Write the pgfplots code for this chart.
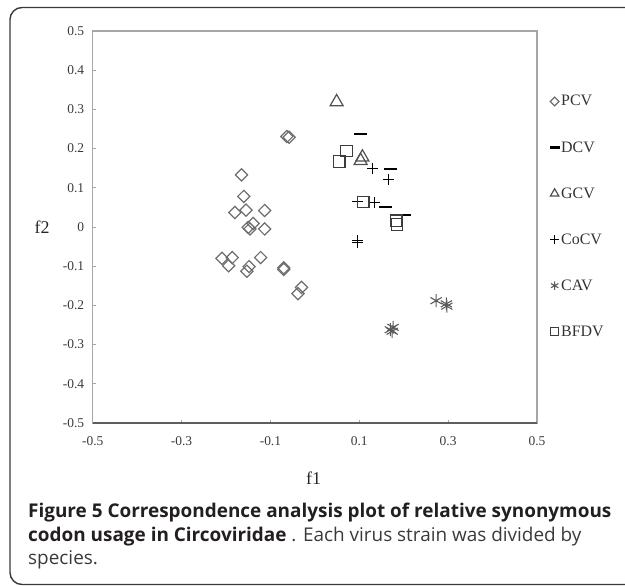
\documentclass[border=0pt]{standalone}
\usepackage{pgfplots}
\pgfplotsset{compat=1.18}
\usepackage{fontspec}
\setmainfont{Liberation Serif}
\newfontfamily\capfont{Open Sans}
\definecolor{framec}{HTML}{3A3A3A}
\definecolor{axisc}{HTML}{A6A6A6}
\definecolor{axisb}{HTML}{5E5E5E}
\definecolor{tickc}{HTML}{3A3A3A}
\definecolor{pcvc}{HTML}{6E6E6E}
\definecolor{sqc}{HTML}{3C3C3C}
\definecolor{trc}{HTML}{505050}
\definecolor{cavc}{HTML}{5A5A5A}
\definecolor{capb}{HTML}{231F20}
\definecolor{capr}{HTML}{3A3A3A}
\pgfplotsset{limg/.style={legend image code/.code={\draw[##1, mark size=#1] plot coordinates {(0bp,0bp)};}}}
\begin{document}
\begin{tikzpicture}
\useasboundingbox (0bp,0bp) rectangle (625bp,-587bp);
\begin{scope}
\clip (0bp,0bp) rectangle (625bp,-587bp);
\draw[framec, line width=1.4bp, rounded corners=12bp] (10bp,-7.5bp) rectangle (660bp,-584.5bp);
\end{scope}
\begin{axis}[
  at={(92.7bp,-423bp)}, anchor=south west,
  scale only axis, width=444.3bp, height=392bp,
  xmin=-0.5, xmax=0.5, ymin=-0.5, ymax=0.5,
  xtick={-0.5,-0.3,-0.1,0.1,0.3,0.5},
  xticklabels={-0.5,-0.3,-0.1,0.1,0.3,0.5},
  ytick={-0.5,-0.4,-0.3,-0.2,-0.1,0,0.1,0.2,0.3,0.4,0.5},
  yticklabels={-0.5,-0.4,-0.3,-0.2,-0.1,0,0.1,0.2,0.3,0.4,0.5},
  xtick pos=bottom, ytick pos=left,
  tick align=inside, major tick length=3bp,
  tick style={axisc, line width=0.8bp},
  axis line style={axisc, line width=1.2bp},
  ticklabel style={font=\fontsize{13.5}{15}\selectfont, text=tickc},
  yticklabel style={xshift=-5bp},
  xticklabel style={yshift=-10bp},
  xlabel={f1}, ylabel={f2},
  label style={font=\fontsize{18}{20}\selectfont, text=black!85},
  xlabel style={at={(axis description cs:0.497,-0.14)}, anchor=center},
  ylabel style={at={(axis description cs:-0.114,0.5)}, anchor=center, rotate=-90},
  legend style={at={(1.028,0.84)}, anchor=north west, draw=none, fill=none,
    row sep=31bp, font=\fontsize{16}{18}\selectfont, text=black!80,
    legend cell align=left, inner sep=0pt, nodes={inner sep=1.5bp}},
  after end axis/.code={\draw[axisb, line width=1.2bp] (rel axis cs:0,0) -- (rel axis cs:1,0);},
]
\addplot[only marks, color=pcvc, mark=square, mark size=4.3bp,
  mark options={rotate=45, line width=1.2bp}, limg=3.1bp]
coordinates {
(-0.063,0.231) (-0.058,0.229) (-0.165,0.133) (-0.160,0.078) (-0.180,0.037)
(-0.155,0.043) (-0.113,0.042) (-0.150,-0.001) (-0.146,-0.005) (-0.139,0.009)
(-0.113,-0.005) (-0.209,-0.080) (-0.186,-0.078) (-0.194,-0.099) (-0.148,-0.101)
(-0.153,-0.113) (-0.122,-0.078) (-0.070,-0.104) (-0.070,-0.108) (-0.030,-0.154)
(-0.038,-0.170)
};
\addlegendentry{PCV}
\addplot[only marks, color=black, mark=-, mark size=6.5bp,
  mark options={line width=2.4bp}, limg=5bp]
coordinates {
(0.103,0.238) (0.170,0.148) (0.158,0.051) (0.201,0.030)
};
\addlegendentry{DCV}
\addplot[only marks, color=trc, mark=triangle, mark size=7.5bp,
  mark options={line width=1.2bp}, limg=4.8bp]
coordinates {
(0.049,0.319) (0.107,0.178) (0.103,0.169)
};
\addlegendentry{GCV}
\addplot[only marks, color=black, mark=+, mark size=5.5bp,
  mark options={line width=1bp}, limg=4.2bp]
coordinates {
(0.130,0.149) (0.165,0.121) (0.134,0.062) (0.097,0.066) (0.096,-0.040) (0.097,-0.035)
};
\addlegendentry{CoCV}
\addplot[only marks, color=cavc, mark=asterisk, mark size=6.5bp,
  mark options={line width=1.1bp}, limg=4.2bp]
coordinates {
(0.273,-0.188) (0.296,-0.196) (0.297,-0.202) (0.174,-0.266) (0.170,-0.262) (0.176,-0.256)
};
\addlegendentry{CAV}
\addplot[only marks, color=sqc, mark=square, mark size=5.8bp,
  mark options={line width=1.2bp}, limg=4bp]
coordinates {
(0.055,0.167) (0.071,0.194) (0.109,0.064) (0.183,0.016) (0.185,0.006)
};
\addlegendentry{BFDV}
\end{axis}
\node[anchor=north west, align=left, inner sep=0pt, font=\capfont\fontsize{19}{23.5}\selectfont, text=capr]
  at (28bp,-503bp)
  {{\bfseries\color{capb}Figure 5 Correspondence analysis plot of relative synonymous}\\
   {\bfseries\color{capb}codon usage in Circoviridae} . Each virus strain was divided by\\
   species.};
\end{tikzpicture}
\end{document}
